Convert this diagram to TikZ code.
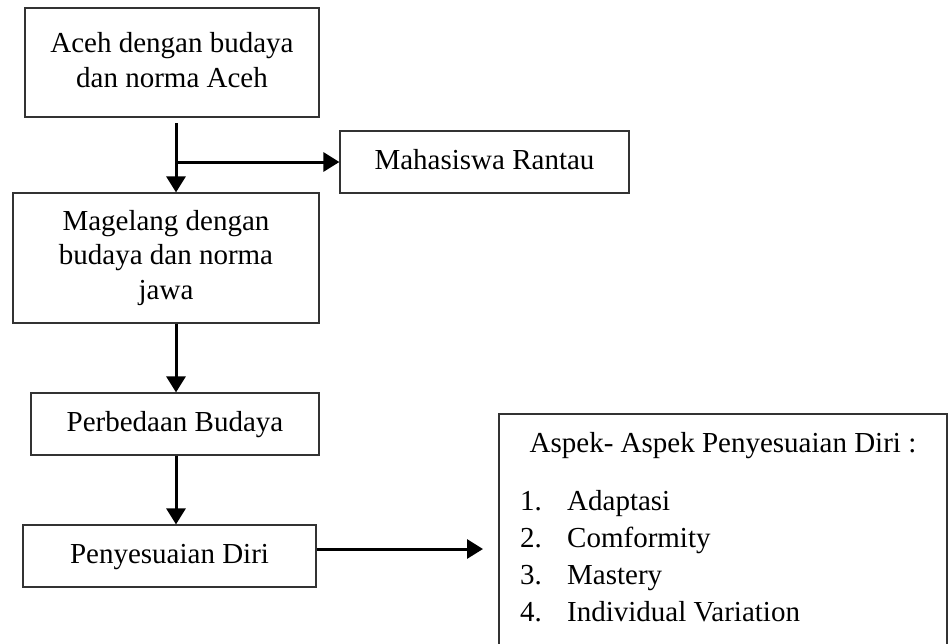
\documentclass[tikz,border=0pt]{standalone}
\usepackage{fontspec}
\setmainfont{Liberation Serif}
\usetikzlibrary{arrows.meta}
\begin{document}
\begin{tikzpicture}[x=1pt,y=-1pt,
  box/.style={draw=black!80, line width=1.2pt, rectangle, inner sep=0pt, align=center,
    font=\fontsize{29}{34.5}\selectfont},
  one/.style={text height=20pt, text depth=6pt},
  arr/.style={draw=black, line width=3pt, -{Triangle[length=16pt,width=19pt]}},
  txt/.style={inner sep=0pt, font=\fontsize{29}{37}\selectfont}]
\useasboundingbox (0,0) rectangle (949,643);
\clip (0,0) rectangle (949,643);

\node[box, minimum width=294pt, minimum height=109pt, text depth=5pt] (b1) at (172,62.5)
  {Aceh dengan budaya\\dan norma Aceh};
\node[box, one, minimum width=289pt, minimum height=62pt] (b2) at (484.5,162) {Mahasiswa Rantau};
\node[box, minimum width=306pt, minimum height=130pt] (b3) at (166,258)
  {Magelang dengan\\budaya dan norma\\jawa};
\node[box, one, minimum width=288pt, minimum height=62pt] (b4) at (175,424) {Perbedaan Budaya};
\node[box, one, minimum width=293pt, minimum height=62pt] (b5) at (169.5,556) {Penyesuaian Diri};
\node[box, minimum width=448pt, minimum height=266pt] (b6) at (723,547) {};

\node[txt, anchor=base] (t6) at (723,452) {Aspek- Aspek Penyesuaian Diri :};
\node[txt, anchor=base west] (l6) at (520,510) {\begin{tabular}[t]{@{}l@{}l@{}}
\makebox[47pt][l]{1.} & Adaptasi\\
\makebox[47pt][l]{2.} & Comformity\\
\makebox[47pt][l]{3.} & Mastery\\
\makebox[47pt][l]{4.} & Individual Variation
\end{tabular}};

\coordinate (s1) at (176,123);
\coordinate (e5) at (483,549);
\draw[arr] (s1) -- (s1 |- b3.north);
\draw[arr] (s1 |- b2.west) -- (b2.west);
\draw[arr] (s1 |- b3.south) -- (s1 |- b4.north);
\draw[arr] (s1 |- b4.south) -- (s1 |- b5.north);
\draw[arr] (e5 -| b5.east) -- (e5);
\end{tikzpicture}
\end{document}
